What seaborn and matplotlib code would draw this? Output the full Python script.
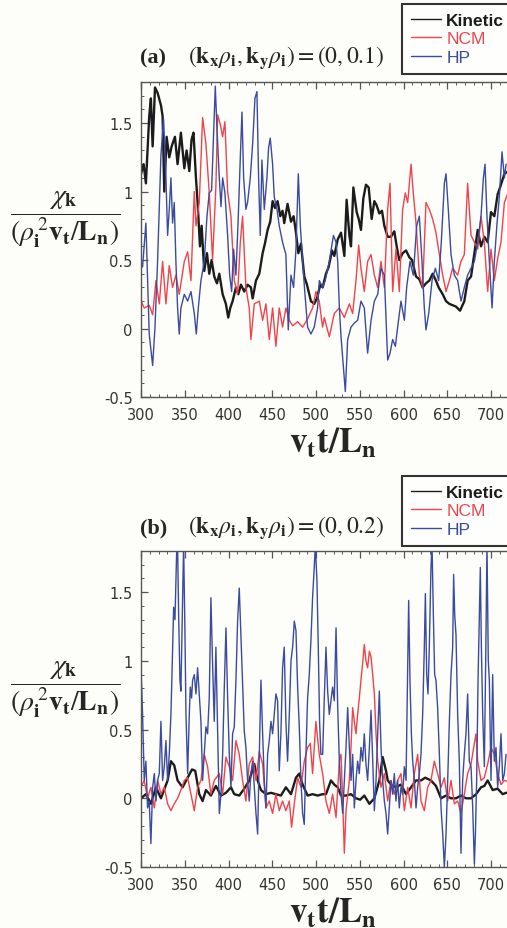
import numpy as np
import pandas as pd
import matplotlib
matplotlib.use("Agg")
import matplotlib.pyplot as plt
import seaborn as sns
from matplotlib.ticker import MultipleLocator, FuncFormatter
from matplotlib.lines import Line2D

# (t, chi) pairs, panel (a): (kx rho, ky rho) = (0, 0.1)
a_kinetic = [
    (300, 1.13), (303, 1.2), (305.6, 1.06), (309.4, 1.55), (311.3, 1.68), (313.3, 1.33),
    (316, 1.76), (319, 1.72), (322.8, 1.63), (324.7, 1.55), (326.6, 1.0), (329.3, 1.4),
    (332.3, 1.25), (335, 1.33), (338.8, 1.4), (341.8, 1.2), (345.6, 1.43), (349.5, 1.17),
    (352.1, 1.3), (355.2, 1.15), (357.8, 1.38), (360, 1.43), (362.8, 1.1), (364.7, 0.92),
    (367.4, 0.6), (369.3, 0.75), (372.3, 0.42), (375.4, 0.55), (378, 0.4), (380.7, 0.5),
    (383.7, 0.38), (386.8, 0.33), (389.5, 0.4), (393.3, 0.25), (397, 0.18), (399.7, 0.08),
    (402, 0.15), (404.7, 0.2), (408.5, 0.3), (411.2, 0.25), (414.2, 0.32), (418, 0.27),
    (421.8, 0.32), (425.6, 0.3), (427.6, 0.22), (431.4, 0.35), (435.2, 0.4), (439, 0.55),
    (441.6, 0.62), (444.7, 0.72), (447.7, 0.78), (450.4, 0.93), (453.1, 0.88), (456.1, 0.93),
    (459.2, 0.82), (461.8, 0.86), (463.7, 0.77), (467.5, 0.91), (471.4, 0.78), (474.4, 0.82),
    (477.1, 0.7), (479.8, 0.55), (482.8, 0.62), (486.6, 0.38), (489.7, 0.32), (494.2, 0.2),
    (498, 0.18), (501, 0.22), (504.9, 0.32), (507.6, 0.3), (511.4, 0.4), (514.5, 0.45),
    (518.3, 0.57), (520.9, 0.53), (524.8, 0.65), (528.6, 0.7), (532.4, 0.53), (535, 0.94),
    (538.1, 0.68), (540, 0.6), (542.7, 1.03), (546.5, 0.85), (548.8, 0.8), (551.4, 0.72),
    (554.1, 0.95), (557.1, 1.05), (560.2, 1.03), (563.6, 0.8), (566.7, 0.93), (569.3, 0.9),
    (572.4, 0.84), (575.4, 0.86), (578.1, 0.75), (581.9, 0.67), (585.7, 0.67), (589.5, 0.71),
    (592.2, 0.6), (595.2, 0.5), (599, 0.55), (602.9, 0.57), (606.7, 0.52), (609.7, 0.5),
    (614.3, 0.38), (618.1, 0.36), (621.9, 0.3), (625.7, 0.33), (629.5, 0.35), (633.3, 0.4),
    (637.1, 0.35), (640.2, 0.3), (644.8, 0.25), (648.6, 0.2), (652.4, 0.18), (656.2, 0.17),
    (660, 0.16), (664.6, 0.13), (669.5, 0.2), (673.3, 0.35), (677.2, 0.38), (681, 0.55),
    (684.8, 0.72), (688.6, 0.6), (692.4, 0.67), (696.2, 0.63), (700, 0.85), (703.8, 0.82),
    (707.6, 0.98), (711.4, 1.05), (715.3, 1.13), (720, 1.15),
]
a_ncm = [
    (300, 0.2), (303.7, 0.15), (309.4, 0.17), (313.3, 0.1), (317.1, 0.35), (320.9, 0.18),
    (324.7, 0.49), (328.5, 0.18), (332.3, 0.46), (336.1, 0.3), (339.9, 0.39), (343.7, 0.25),
    (349.5, 0.49), (353.3, 0.56), (357.1, 0.35), (360.9, 1.0), (362.8, 0.75), (366.6, 0.92),
    (370.4, 1.54), (374.2, 1.35), (378, 0.99), (381.8, 0.5), (385.6, 1.04), (387.6, 1.56),
    (390.6, 1.49), (393.3, 1.4), (395.9, 1.51), (399, 1.0), (402.8, 0.82), (406.6, 0.35),
    (410.4, 0.25), (413.5, 0.63), (416.1, 0.82), (419.9, 0.3), (423.7, 0.15), (425.6, -0.08),
    (429.5, 0.18), (435.2, 0.2), (439, 0.06), (442.8, 0.18), (446.6, -0.08), (450.4, 0.15),
    (454.2, -0.13), (458, 0.15), (461.8, 0.01), (465.6, 0.15), (469.5, 0.06), (473.3, 0.02),
    (479, 0.05), (484.7, 0.01), (490.4, 0.07), (496.1, 0.15), (499.9, 0.27), (503.7, 0.2),
    (507.5, 0.01), (509.5, 0.08), (515.2, -0.06), (520.9, 0.11), (526.7, 0.15), (532.4, 0.08),
    (538.1, 0.18), (541.9, 0.11), (545.7, 0.35), (548.8, 0.61), (551.4, 0.44), (555.2, 0.27),
    (559, 0.49), (562.9, 0.54), (566.7, 0.39), (570.5, 0.3), (574.3, 0.49), (578.1, 0.3),
    (581.9, 0.87), (584.6, 1.06), (587.6, 0.27), (591.4, 0.58), (595.2, 0.27), (599, 0.87),
    (602.1, 0.99), (604.8, 0.92), (608.6, 1.2), (611.2, 0.99), (614.3, 0.77), (618.1, 0.39),
    (621.9, 0.3), (625.7, 0.92), (629.5, 0.87), (633.3, 0.8), (637.1, 0.7), (641, 0.54),
    (644.8, 0.39), (648.6, 0.27), (652.4, 0.35), (656.2, 0.44), (661.9, 0.39), (665.7, 0.49),
    (669.5, 0.54), (673.3, 1.06), (677.2, 0.68), (681, 0.63), (684.8, 0.58), (688.6, 0.82),
    (692.4, 0.63), (696.2, 0.27), (700, 0.58), (703.8, 0.35), (707.6, 0.51), (711.4, 0.63),
    (715.3, 0.92), (720, 1.0),
]
a_hp = [
    (300, 0.49), (301.8, 0.45), (305.6, 0.77), (309.4, -0.04), (313.3, -0.27), (315.9, 0.0),
    (319, 0.5), (322.8, 1.27), (325.8, 1.53), (328.5, 1.1), (330.4, 0.68), (332.3, 0.87),
    (334.2, 1.1), (336.1, 0.77), (338, 0.92), (339.9, 0.49), (341.8, 0.15), (343.7, -0.04),
    (345.6, 0.15), (349.5, 0.25), (353.3, 0.2), (357.1, 0.27), (360.9, 0.11), (363.2, -0.04),
    (365.5, 0.15), (368.5, 0.35), (372.3, 0.49), (375.4, 0.82), (378, 0.99), (380.7, 1.01),
    (382.6, 1.35), (384.9, 1.77), (386.8, 1.46), (389.5, 1.1), (391.4, 0.89), (393.3, 1.1),
    (395.9, 0.99), (399, 0.68), (401.3, 0.39), (403.6, 0.27), (405.8, 0.58), (408.5, 0.39),
    (411.2, 0.82), (413.5, 1.25), (415.4, 1.58), (417.3, 1.1), (419.9, 0.87), (421.8, 0.92),
    (424.9, 1.1), (427.6, 1.35), (430.2, 1.68), (432.5, 1.73), (434.4, 1.1), (436.3, 0.68),
    (438.2, 1.23), (440.9, 0.87), (443.9, 1.1), (445.8, 1.32), (447.7, 1.39), (450.4, 1.2),
    (452.3, 0.96), (455.4, 0.87), (458, 0.75), (461.8, 0.63), (465.6, 0.54), (468.3, -0.01),
    (471.4, 0.39), (474.4, 0.3), (477.1, 0.58), (479.8, 1.13), (482.1, 0.75), (484.7, 0.49),
    (487.4, 0.25), (490.4, 0.01), (494.2, -0.04), (498, 0.01), (501.8, 0.15), (503.8, 0.35),
    (507.6, 0.3), (510.5, 0.35), (515.2, 0.49), (519.9, 0.68), (522.9, 0.63), (524.8, 0.49),
    (526.7, 0.15), (528.6, -0.06), (531.2, -0.27), (533.5, -0.46), (536.2, -0.08), (540, 0.01),
    (543.8, 0.04), (547.6, 0.06), (551.4, 0.2), (555.2, 0.15), (559, -0.18), (562.9, 0.06),
    (566.7, 0.2), (570.5, 0.25), (574.3, 0.44), (578.1, 0.39), (581.9, -0.23), (584.6, -0.18),
    (587.6, -0.08), (590.7, -0.13), (593.3, 0.01), (597.1, 0.2), (601, 0.06), (603.6, 0.3),
    (607.4, 0.49), (611.2, 0.39), (615.1, 0.75), (618.1, 0.82), (621.1, 0.49), (623.8, 0.15),
    (625.7, -0.01), (628.8, 0.11), (632.6, 0.35), (636.4, 0.44), (640.2, 0.35), (643.2, 0.63),
    (646.7, 1.06), (648.6, 1.13), (651.2, 0.87), (654.3, 0.54), (658.1, 0.39), (661.9, 0.35),
    (665.7, 0.2), (669.5, 0.3), (673.3, 0.39), (677.2, 0.44), (681, 0.49), (684.8, 0.63),
    (688.6, 0.82), (691.3, 1.1), (693.2, 1.2), (695.4, 0.82), (698.1, 0.49), (701.2, 0.15),
    (703.8, 0.49), (706.9, 0.77), (709.5, 0.96), (712.6, 1.29), (715.3, 1.1), (717.2, 1.2),
]

# panel (b): (kx rho, ky rho) = (0, 0.2)
b_kinetic = [
    (300, 0.0), (305.6, 0.03), (311.3, -0.04), (317.1, 0.08), (322.8, 0.0), (330.4, 0.13),
    (334.2, 0.27), (338, 0.24), (341.8, 0.13), (347.5, 0.08), (353.3, 0.15), (358.3, 0.21),
    (362, 0.2), (366.6, 0.03), (370.4, -0.02), (374.2, 0.06), (379.9, 0.02), (385.6, 0.09),
    (391.4, 0.02), (397.1, 0.04), (402.8, 0.08), (406.6, 0.03), (412.3, 0.02), (418, 0.07),
    (423.7, 0.13), (429.5, 0.25), (433.3, 0.13), (437.1, 0.06), (442.8, 0.03), (448.5, 0.04),
    (454.2, 0.03), (459.9, 0.02), (465.6, 0.08), (471.4, 0.03), (477.1, 0.15), (480.9, 0.18),
    (484.7, 0.1), (490.4, 0.02), (496.1, 0.03), (501.8, 0.02), (507.5, 0.03), (511.4, 0.03),
    (517.1, 0.13), (520.9, 0.1), (524.8, 0.08), (528.6, 0.02), (534.3, 0.02), (540, 0.03),
    (545.7, 0.0), (550.5, -0.01), (555.2, 0.02), (561, -0.04), (566.7, 0.0), (572.4, 0.13),
    (576.2, 0.3), (580, 0.2), (582, 0.13), (585.7, 0.1), (591.4, 0.08), (597.1, 0.1),
    (602.9, 0.03), (608.6, 0.08), (614.3, 0.13), (620, 0.13), (624.8, 0.15), (631.4, 0.13),
    (637.1, 0.09), (642.9, 0.0), (648.6, 0.02), (654.3, 0.0), (660, 0.0), (665.7, 0.02),
    (671.4, 0.0), (677.2, 0.0), (682.9, 0.03), (688.6, 0.08), (692.4, 0.09), (696.2, 0.13),
    (701.9, 0.06), (707.6, 0.07), (713.4, 0.03), (717.2, 0.04), (720, 0.04),
]
b_ncm = [
    (300, 0.08), (303.7, 0.13), (307.5, 0.0), (311.3, 0.08), (315.2, -0.07), (319, 0.13),
    (322.8, 0.03), (326.6, 0.08), (330.4, -0.04), (334.2, -0.09), (338, -0.04), (341.8, 0.0),
    (345.6, 0.06), (349.5, 0.13), (353.3, 0.15), (357.1, 0.03), (360.9, -0.09), (364.7, 0.08),
    (368.5, 0.13), (372.3, 0.32), (376.1, 0.23), (379.9, 0.03), (383.7, 0.13), (389.5, 0.18),
    (393.3, 0.03), (397.1, 0.3), (400.9, 0.23), (404.7, 0.13), (408.5, 0.42), (412.3, 0.32),
    (416.1, 0.13), (419.9, -0.02), (423.7, 0.25), (427.6, 0.3), (431.4, 0.13), (435.2, 0.34),
    (439, 0.25), (442.8, -0.07), (446.6, -0.02), (450.4, -0.11), (454.2, 0.03), (458, -0.09),
    (461.8, -0.02), (465.6, -0.09), (469.5, -0.02), (472.1, -0.21), (475.2, -0.04), (479, 0.15),
    (482.8, 0.08), (486.6, 0.27), (490.4, 0.37), (493.5, 0.4), (496.1, 0.18), (499.9, 0.56),
    (503.7, 0.32), (507.6, 0.18), (511.4, -0.02), (515.2, -0.11), (519, 0.03), (522.9, -0.14),
    (526.7, 0.27), (528.6, 0.32), (530.5, -0.02), (532.4, -0.4), (534.3, -0.09), (538.1, 0.13),
    (540, 0.37), (541.9, 0.66), (543.8, 0.56), (545.7, 0.47), (547.6, 0.61), (549.5, 0.73),
    (551.4, 0.86), (553.3, 0.98), (555.2, 1.12), (557.1, 1.0), (559, 0.95), (561, 1.07),
    (562.9, 1.03), (564.8, 0.9), (566.7, 0.76), (568.6, 0.47), (570.5, 0.27), (574.3, 0.08),
    (578.1, 0.18), (581.9, -0.02), (585.7, 0.13), (589.5, 0.03), (593.3, 0.13), (597.1, 0.18),
    (601, -0.09), (604.8, 0.08), (608.6, -0.07), (612.4, 0.18), (616.2, 0.32), (620, -0.02),
    (623.8, -0.09), (627.6, 0.08), (631.4, 0.13), (635.2, 0.27), (639, 0.18), (642.9, 0.08),
    (646.7, 0.15), (650.5, -0.02), (654.3, 0.13), (658.1, -0.04), (661.9, -0.02), (665.7, -0.11),
    (669.5, 0.03), (673.3, 0.18), (677.2, 0.25), (681, 0.4), (682.9, 0.47), (684.8, 0.27),
    (688.6, 0.13), (692.4, 0.15), (696.2, 0.25), (700, 0.37), (703.8, 0.32), (707.6, 0.18),
    (711.4, 0.1), (715.3, 0.13), (720, 0.12),
]
b_hp = [
    (300, 0.95), (301.8, 0.61), (303.7, 0.13), (305.6, 0.27), (307.5, -0.07), (309.4, -0.02),
    (311.3, -0.33), (313.3, 0.08), (315.2, 0.18), (317.1, -0.02), (319, 0.13), (320.9, 0.18),
    (322.8, 0.56), (324.7, 0.13), (326.6, 0.23), (328.5, 0.42), (330.4, 0.13), (332.3, 0.32),
    (334.2, 0.61), (335.4, 0.9), (337.3, 1.39), (338.8, 1.3), (340.7, 1.78), (341.8, 1.85),
    (343, 1.34), (344.5, 0.86), (345.6, 0.78), (347.5, 1.44), (348.7, 1.85), (350.2, 1.22),
    (351.4, 0.61), (353.3, 0.18), (355.2, 0.61), (356.3, 0.81), (357.8, 0.73), (359, 0.86),
    (360.9, 0.9), (362.8, 0.76), (364.7, 0.95), (366.6, 0.76), (368.5, 0.56), (370.4, 0.13),
    (372.3, 0.32), (374.2, 0.52), (376.1, 0.47), (378, 0.73), (379.9, 1.46), (381.8, 0.98),
    (383.7, 0.56), (385.6, 1.1), (387.6, 0.47), (389.5, -0.11), (391.4, 0.03), (393.3, 0.32),
    (395.2, 0.81), (397.1, 1.24), (399, 0.73), (400.9, 0.32), (402.8, 0.08), (404.7, 0.47),
    (406.6, 0.52), (408.5, 0.86), (410.4, 1.29), (412.3, 1.53), (414.2, 1.19), (416.1, 0.86),
    (418, 0.49), (419.9, 0.37), (421.8, 0.13), (423.7, -0.02), (425.6, 0.18), (427.6, 0.27),
    (429.5, 0.08), (431.4, -0.11), (433.3, -0.26), (435.2, 0.32), (437.1, 0.86), (439, 0.47),
    (440.9, 0.13), (442.8, -0.07), (444.7, 0.32), (446.6, 0.42), (448.5, 0.56), (450.4, 0.47),
    (452.3, 0.61), (454.2, 0.76), (456.1, 0.71), (458, 0.2), (459.9, 0.47), (461.8, 0.95),
    (463.7, 1.1), (465.6, 0.56), (467.5, 0.27), (469.5, 0.61), (471.4, 1.0), (473.3, 1.1),
    (475.2, 1.29), (477.1, 1.22), (479, 0.81), (480.9, 0.52), (482.8, 0.13), (484.7, -0.11),
    (486.6, -0.19), (488.5, 0.32), (490.4, 0.73), (492.3, 0.9), (494.2, 1.15), (496.1, 1.46),
    (498, 1.68), (499.2, 1.85), (501.1, 1.58), (502.6, 1.1), (504.1, 0.56), (505.6, 0.32),
    (507.6, 0.32), (509.5, 0.73), (511.4, 1.1), (513.3, 0.78), (515.2, 0.61), (517.1, 0.71),
    (519, 0.81), (520.9, 0.71), (522.9, 1.24), (524.8, 0.66), (526.7, 0.27), (528.6, 0.03),
    (530.5, -0.11), (532.4, 0.13), (534.3, 0.37), (536.2, 0.66), (538.1, 0.37), (540, 0.13),
    (541.9, 0.32), (543.8, -0.07), (545.7, 0.13), (547.6, 0.27), (549.5, 0.18), (551.4, 0.37),
    (553.3, 0.27), (555.2, 0.47), (557.1, 0.25), (559, 0.13), (561, 0.37), (562.9, 0.64),
    (564.8, 0.27), (566.7, -0.09), (568.6, 0.13), (570.5, 0.47), (572.4, 0.78), (574.3, 0.37),
    (576.2, 0.13), (578.1, -0.02), (580, -0.11), (581.9, -0.26), (583.8, -0.07), (585.7, 0.13),
    (587.6, 0.03), (589.5, 0.18), (591.4, -0.02), (593.3, 0.13), (595.2, -0.07), (597.1, 0.08),
    (599, 0.03), (601, 0.23), (602.9, 0.13), (604.8, 0.98), (605.9, 1.44), (607.4, 0.86),
    (609, 0.47), (610.5, 0.27), (612.4, 0.13), (614.3, -0.07), (616.2, 0.08), (618.1, 0.18),
    (620, 0.32), (621.9, 0.61), (623.8, 1.1), (625, 1.49), (626.5, 0.9), (628, 0.76),
    (629.5, 1.1), (631.4, 1.68), (632.6, 1.85), (634.1, 1.34), (635.6, 0.9), (637.1, 0.86),
    (639, 0.66), (641, 0.32), (642.9, -0.07), (644.8, -0.26), (646.7, -0.5), (648.6, -0.26),
    (650.5, 0.13), (652.4, 0.56), (654.3, 0.9), (656.2, 1.1), (657.3, 1.63), (658.5, 1.34),
    (660, 1.19), (661.9, 0.61), (663.8, 0.27), (665.7, -0.4), (667.6, 0.13), (669.5, 0.32),
    (671.4, 0.47), (673.3, 0.76), (675.2, 0.27), (677.2, 0.23), (679.1, -0.07), (681, -0.48),
    (682.1, -0.28), (683.6, 0.13), (685.2, 0.86), (686.7, 1.34), (687.8, 1.68), (689, 1.1),
    (690.5, 0.61), (692.4, 0.23), (694.3, 1.2), (695.4, 1.85), (696.9, 1.0), (698.1, 0.86),
    (700, 0.13), (701.9, 0.9), (703.8, 0.27), (705.7, 0.37), (707.6, 0.08), (709.5, 0.23),
    (711.4, 0.47), (713.4, 0.13), (715.3, 0.18), (717.2, 0.32),
]

series_names = ["Kinetic", "NCM", "HP"]
series_colors = ["#1c1c1c", "#f2424c", "#3b4b9e"]
series_widths = [1.7, 1.0, 1.0]
panel_tags = ["(a)", "(b)"]
panel_titles = [r"$(\mathbf{k_x}\rho_\mathbf{i},\mathbf{k_y}\rho_\mathbf{i}) = (0, 0.1)$",
                r"$(\mathbf{k_x}\rho_\mathbf{i},\mathbf{k_y}\rho_\mathbf{i}) = (0, 0.2)$"]
x_ticks = [300, 350, 400, 450, 500, 550, 600, 650, 700]
y_ticks = [-0.5, 0, 0.5, 1, 1.5]

sns.set_style("ticks")
plt.rcParams["font.family"] = ["DejaVu Sans"]
plt.rcParams["mathtext.fontset"] = "stix"
plt.rcParams["axes.unicode_minus"] = False

W, H = 507, 929
fig = plt.figure(figsize=(W / 100, H / 100), dpi=100, facecolor="#fdfdf9")

panels = [(a_kinetic, a_ncm, a_hp), (b_kinetic, b_ncm, b_hp)]
# axes boxes in pixels: left, top, bottom (right edge runs off the page)
boxes = [(141, 83, 398), (141, 552, 868)]
title_y = [58, 528]
legend_top = [5, 477]
ylab_y = [220, 690]
xlab_y = [442, 912]

for i, (data, (left, top, bottom)) in enumerate(zip(panels, boxes)):
    width = 420 * 0.875
    ax = fig.add_axes([left / W, 1 - bottom / H, width / W, (bottom - top) / H])
    ax.set_facecolor("#fdfdf9")
    for ser, name, col, lw in zip(data, series_names, series_colors, series_widths):
        df = pd.DataFrame(ser, columns=["t", "chi"])
        sns.lineplot(data=df, x="t", y="chi", ax=ax, color=col, lw=lw,
                     estimator=None, sort=False, legend=False)
    ax.set_xlim(300, 720)
    ax.set_ylim(-0.5, 1.8)
    ax.set_xticks(x_ticks)
    ax.set_yticks(y_ticks)
    ax.xaxis.set_minor_locator(MultipleLocator(10))
    ax.yaxis.set_minor_locator(MultipleLocator(0.1))
    ax.yaxis.set_major_formatter(FuncFormatter(lambda v, p: f"{v:g}"))
    ax.tick_params(which="both", direction="in", top=True, right=False, color="#555555")
    ax.tick_params(which="major", length=5, width=0.9, labelsize=10.5, labelcolor="#333333")
    ax.tick_params(axis="x", which="major", pad=7)
    ax.tick_params(axis="y", which="major", pad=6)
    ax.tick_params(which="minor", length=2.5, width=0.7)
    for s in ["left", "bottom", "top"]:
        ax.spines[s].set_color("#555555")
        ax.spines[s].set_linewidth(1.0)
    ax.spines["right"].set_visible(False)
    ax.set_xlabel("")
    ax.set_ylabel("")

    fig.text(140 / W, 1 - title_y[i] / H, panel_tags[i], fontsize=16,
             fontweight="bold", family="Liberation Serif", va="center", ha="left")
    fig.text(188 / W, 1 - title_y[i] / H, panel_titles[i], fontsize=17,
             va="center", ha="left")
    fig.text(65 / W, 1 - ylab_y[i] / H,
             r"$\dfrac{\chi_\mathbf{k}}{(\rho_\mathbf{i}^{\,2}\mathbf{v_t}/\mathbf{L_n})}$",
             fontsize=20, ha="center", va="center")
    fig.text(333 / W, 1 - xlab_y[i] / H, r"$\mathbf{v_t t/L_n}$", fontsize=25,
             ha="center", va="center")

    handles = [Line2D([], [], color=c, lw=1.0) for c in series_colors]
    leg = ax.legend(handles, series_names, loc="upper left",
                    bbox_to_anchor=(402 / W, 1 - legend_top[i] / H),
                    bbox_transform=fig.transFigure, frameon=True, fancybox=False,
                    edgecolor="black", prop={"family": "Liberation Sans", "size": 12.5},
                    handlelength=1.75, handletextpad=0.3, labelspacing=0.2,
                    borderpad=0.5, borderaxespad=0)
    leg.get_frame().set_linewidth(1.5)
    leg.get_frame().set_facecolor("white")
    for txt, c in zip(leg.get_texts(), series_colors):
        txt.set_color(c)
    leg.get_texts()[0].set_fontweight("bold")

fig.savefig("out.png", dpi=100, facecolor=fig.get_facecolor())
